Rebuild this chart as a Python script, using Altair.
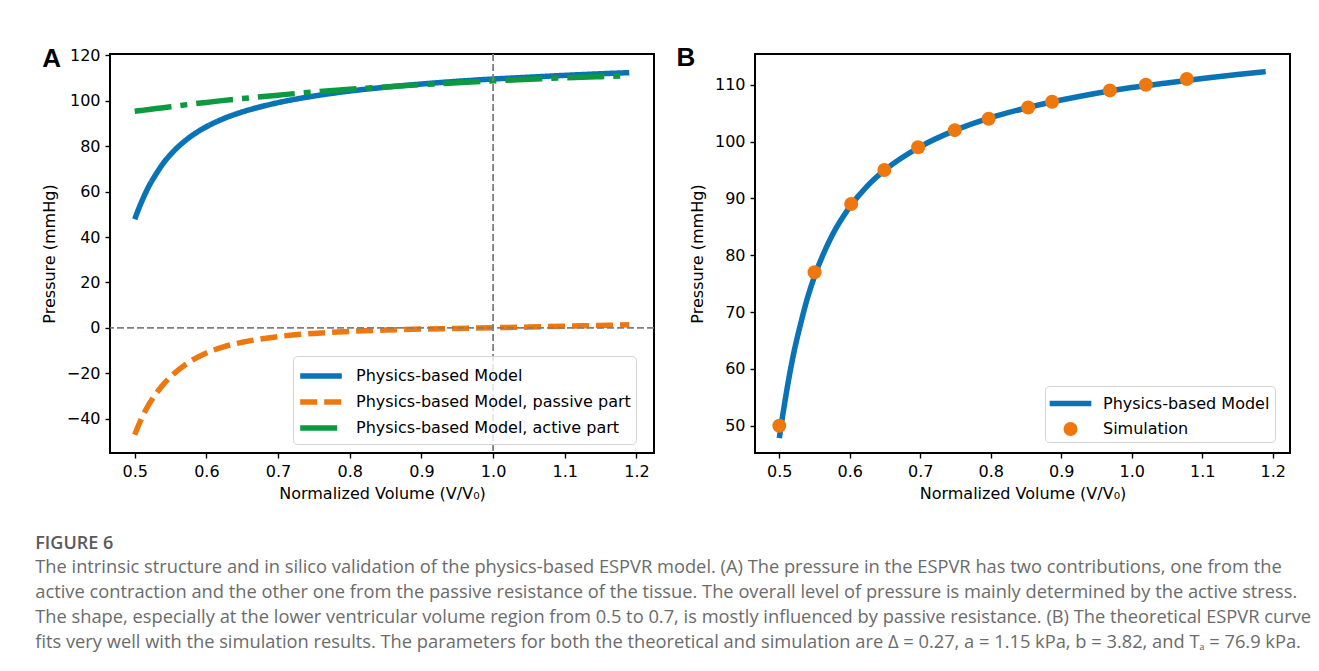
import altair as alt
import pandas as pd

# ---------------- data ----------------
volume = [0.50, 0.505, 0.51, 0.52, 0.53, 0.54, 0.55, 0.575, 0.60, 0.625, 0.65, 0.70,
          0.75, 0.80, 0.85, 0.90, 0.95, 1.00, 1.05, 1.10, 1.15, 1.19]
model_total = [47.8, 52.0, 55.8, 62.5, 67.8, 72.5, 76.3, 83.5, 88.5, 92.2, 95.0, 99.1,
               102.0, 104.2, 105.9, 107.3, 108.5, 109.5, 110.3, 111.1, 111.8, 112.3]
model_passive = [-47.0, -43.0, -39.5, -33.5, -28.8, -24.8, -21.5, -15.2, -11.0, -8.2, -6.3, -3.8,
                 -2.4, -1.5, -0.9, -0.5, -0.2, 0.1, 0.4, 0.8, 1.1, 1.4]
model_active = [95.3, 95.5, 95.7, 96.1, 96.5, 96.9, 97.3, 98.3, 99.2, 100.1, 100.9, 102.4,
                103.8, 105.0, 106.0, 107.0, 107.9, 108.7, 109.4, 110.0, 110.5, 110.9]

sim_volume = [0.500, 0.550, 0.602, 0.649, 0.697, 0.749, 0.797, 0.853, 0.887, 0.969, 1.020, 1.078]
sim_pressure = [50, 77, 89, 95, 99, 102, 104, 106, 107, 109, 110, 111]

series_a = ["Physics-based Model", "Physics-based Model, passive part", "Physics-based Model, active part"]
series_b = ["Physics-based Model", "Simulation"]

x_ticks = [0.5, 0.6, 0.7, 0.8, 0.9, 1.0, 1.1, 1.2]
y_ticks_a = [-40, -20, 0, 20, 40, 60, 80, 100, 120]
y_ticks_b = [50, 60, 70, 80, 90, 100, 110]
ref_x = [1.0]
ref_y = [0.0]

caption_lines = [
    "The intrinsic structure and in silico validation of the physics-based ESPVR model. (A) The pressure in the ESPVR has two contributions, one from the",
    "active contraction and the other one from the passive resistance of the tissue. The overall level of pressure is mainly determined by the active stress.",
    "The shape, especially at the lower ventricular volume region from 0.5 to 0.7, is mostly influenced by passive resistance. (B) The theoretical ESPVR curve",
    "fits very well with the simulation results. The parameters for both the theoretical and simulation are \u0394 = 0.27, a = 1.15 kPa, b = 3.82, and T\u2090 = 76.9 kPa.",
]

# ---------------- styling ----------------
FONT = "DejaVu Sans"
LETTERFONT = "Liberation Sans"
CAPFONT = "Open Sans"
BLUE = "#0A73B5"
ORANGE = "#EE780D"
GREEN = "#0B9A40"
LW = 5.5

rows = []
for name, vals in zip(series_a, [model_total, model_passive, model_active]):
    for v, p in zip(volume, vals):
        rows.append({"volume": v, "pressure": p, "seriesA": name})
df_a = pd.DataFrame(rows)
df_model = pd.DataFrame({"volume": volume, "pressure": model_total})
df_sim = pd.DataFrame({"volume": sim_volume, "pressure": sim_pressure,
                       "seriesB": [series_b[1]] * len(sim_volume)})
df_rx = pd.DataFrame({"x": ref_x})
df_ry = pd.DataFrame({"y": ref_y})

x_title = "Normalized Volume (V/V\u2080)"
y_title = "Pressure (mmHg)"

x_scale = alt.Scale(domain=[0.4655, 1.2245], nice=False, zero=False)
x_axis = alt.Axis(values=x_ticks, format=".1f", title=x_title)

# ---------------- panel A ----------------
leg_a = alt.Legend(
    title=None, orient="none", legendX=183, legendY=302,
    symbolType="M-1.7,0H1.7", symbolSize=600, symbolStrokeWidth=LW, symbolOffset=8,
    labelFont=FONT, labelFontSize=16, labelColor="black", labelOffset=20, labelLimit=500,
    rowPadding=0, padding=5, strokeColor="#d4d4d4", fillColor="rgba(255,255,255,0.8)",
    cornerRadius=4,
)

lines_a = alt.Chart(df_a).mark_line(strokeWidth=LW, interpolate="monotone").encode(
    x=alt.X("volume:Q", scale=x_scale, axis=x_axis),
    y=alt.Y("pressure:Q", scale=alt.Scale(domain=[-55, 120.5], nice=False, zero=False),
            axis=alt.Axis(values=y_ticks_a, title=y_title)),
    color=alt.Color("seriesA:N", scale=alt.Scale(domain=series_a, range=[BLUE, ORANGE, GREEN]),
                    legend=leg_a),
    strokeDash=alt.StrokeDash("seriesA:N",
                              scale=alt.Scale(domain=series_a, range=[[1, 0], [17, 7], [37, 9, 7, 9]]),
                              legend=leg_a),
)

rule_x = alt.Chart(df_rx).mark_rule(color="#7f7f7f", strokeWidth=1.8, strokeDash=[7, 3]).encode(
    x=alt.X("x:Q", scale=x_scale))
rule_y = alt.Chart(df_ry).mark_rule(color="#7f7f7f", strokeWidth=1.8, strokeDash=[7, 3]).encode(
    y=alt.Y("y:Q"))

panel_a = alt.layer(lines_a, rule_x, rule_y).properties(
    width=544, height=399,
    title=alt.TitleParams("A", anchor="start", frame="bounds", font=LETTERFONT, fontSize=26,
                          fontWeight="bold", color="black", baseline="top", offset=-25, dx=1),
)

# ---------------- panel B ----------------
leg_b = alt.Legend(
    title=None, orient="none", legendX=290, legendY=332,
    symbolStrokeWidth=0, symbolOffset=8,
    labelFont=FONT, labelFontSize=16, labelColor="black", labelOffset=20, labelLimit=500,
    rowPadding=9, padding=5, strokeColor="#d4d4d4", fillColor="rgba(255,255,255,0.8)",
    cornerRadius=4,
)

y_scale_b = alt.Scale(domain=[45.2, 115.4], nice=False, zero=False)

line_b = alt.Chart(df_model).mark_line(strokeWidth=LW, interpolate="monotone", color=BLUE).encode(
    x=alt.X("volume:Q", scale=x_scale, axis=x_axis),
    y=alt.Y("pressure:Q", scale=y_scale_b, axis=alt.Axis(values=y_ticks_b, title=y_title)),
)

points_b = alt.Chart(df_sim).mark_point(filled=True, opacity=1).encode(
    x=alt.X("volume:Q", scale=x_scale),
    y=alt.Y("pressure:Q", scale=y_scale_b),
    color=alt.Color("seriesB:N", scale=alt.Scale(domain=series_b, range=[BLUE, ORANGE]), legend=leg_b),
    shape=alt.Shape("seriesB:N",
                    scale=alt.Scale(domain=series_b, range=["M-1.7,-0.22H1.7V0.22H-1.7Z", "circle"]),
                    legend=leg_b),
    size=alt.Size("seriesB:N", scale=alt.Scale(domain=series_b, range=[600, 196]), legend=leg_b),
)

panel_b = alt.layer(line_b, points_b).properties(
    width=535, height=399,
    title=alt.TitleParams("B", anchor="start", frame="bounds", font=LETTERFONT, fontSize=26,
                          fontWeight="bold", color="black", baseline="top", offset=-17, dx=-13),
)

chart = alt.hconcat(panel_a, panel_b, spacing=19).resolve_scale(
    color="independent", strokeDash="independent", shape="independent", size="independent",
    x="independent", y="independent",
).properties(
    padding={"left": 35, "top": 44, "right": 5, "bottom": 5},
    title=alt.TitleParams(
        "FIGURE 6", subtitle=caption_lines, orient="bottom", anchor="start", frame="bounds",
        dx=-5, offset=33, font=CAPFONT, fontSize=18, fontWeight=600, color="#5a5a5a",
        subtitleFont=CAPFONT, subtitleFontSize=18.3, subtitleColor="#6b6b6b",
        subtitleLineHeight=25, subtitlePadding=6,
    ),
).configure_view(
    stroke="black", strokeWidth=2
).configure_axis(
    labelFont=FONT, labelFontSize=16, labelColor="black", labelPadding=5,
    titleFont=FONT, titleFontSize=16, titleFontWeight="normal", titleColor="black",
    tickColor="black", tickWidth=1.4, tickSize=5, domain=False, grid=False,
).configure_axisY(titlePadding=9).configure_axisX(titlePadding=6)

chart.save("out.html", embed_options={"renderer": "svg", "actions": False})
